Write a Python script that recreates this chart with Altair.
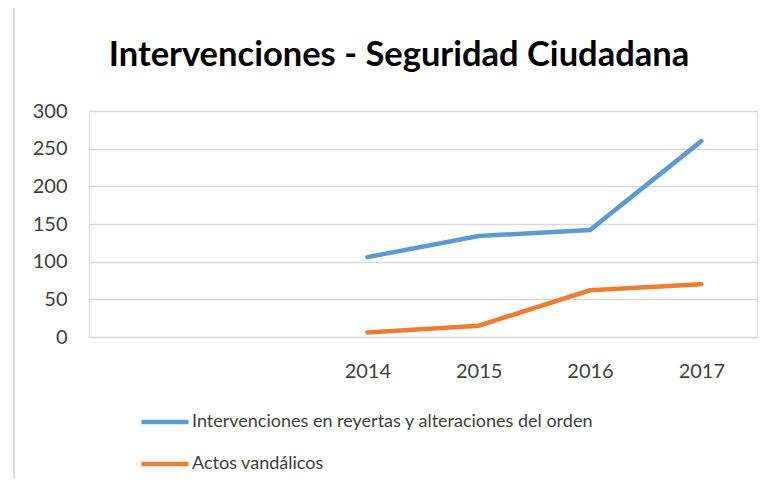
import altair as alt
import pandas as pd

categories = ["", " ", "2014", "2015", "2016", "2017"]
years = ["2014", "2015", "2016", "2017"]
series_names = [
    "Intervenciones en reyertas y alteraciones del orden",
    "Actos vandálicos",
]
intervenciones = [106, 134, 142, 260]
vandalicos = [6, 15, 62, 70]
colors = ["#5B9BD5", "#ED7D31"]
y_ticks = [0, 50, 100, 150, 200, 250, 300]

rows = []
for y, v in zip(years, intervenciones):
    rows.append({"Año": y, "Serie": series_names[0], "Valor": v})
for y, v in zip(years, vandalicos):
    rows.append({"Año": y, "Serie": series_names[1], "Valor": v})
df = pd.DataFrame(rows)

FONT = "Lato"
TXT = "#404040"

lines = alt.Chart(df).mark_line(strokeWidth=4.5, strokeCap="round").encode(
    x=alt.X("Año:O", scale=alt.Scale(domain=categories, padding=0.5),
            axis=alt.Axis(title=None, domain=False, ticks=False, labelAngle=0,
                          labelFontSize=20, labelColor=TXT, labelPadding=24,
                          labelFont=FONT)),
    y=alt.Y("Valor:Q", scale=alt.Scale(domain=[0, 300], nice=False),
            axis=alt.Axis(title=None, domain=False, ticks=False, values=y_ticks,
                          labelFontSize=20, labelColor=TXT, labelPadding=22,
                          labelFont=FONT, gridColor="#D9D9D9", gridWidth=1.3)),
    color=alt.Color("Serie:N", sort=series_names,
                    scale=alt.Scale(domain=series_names, range=colors),
                    legend=alt.Legend(title=None, orient="none", legendX=50, legendY=285,
                                      direction="vertical", symbolType="stroke",
                                      symbolSize=2209, symbolStrokeWidth=4.5,
                                      labelFontSize=18, labelFont=FONT, labelColor=TXT,
                                      labelOffset=1, rowPadding=7, labelLimit=600)),
)

border = alt.Chart(df).mark_rule(color="#D9D9D9", strokeWidth=1.5).encode(
    x=alt.value(-75), y=alt.value(-103), y2=alt.value(376)
)

chart = alt.layer(border, lines).properties(
    width=668, height=226,
    autosize=alt.AutoSizeParams(type="none"),
    padding={"left": 81, "top": 103, "right": 14, "bottom": 142},
    title=alt.TitleParams("Intervenciones - Seguridad Ciudadana", fontSize=34.5,
                          font=FONT, fontWeight="bold", color="#000000",
                          anchor="middle", dx=-24, offset=-66),
).configure_view(stroke=None).configure(background="white")

chart.save("out.html", embed_options={"renderer": "svg", "actions": False})
